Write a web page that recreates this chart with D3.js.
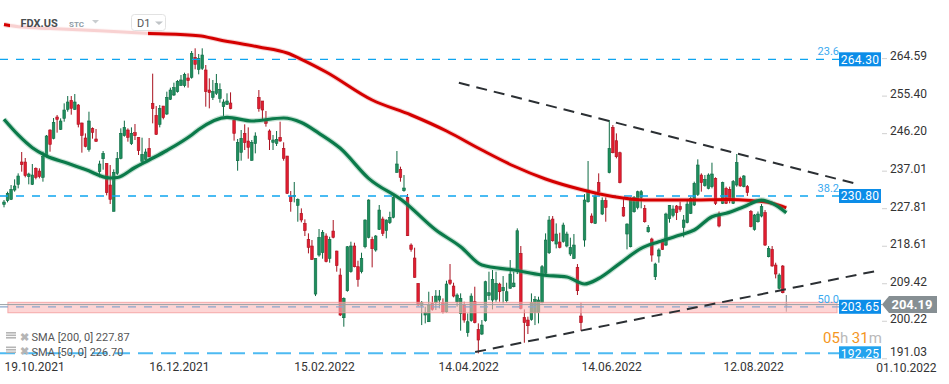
<!DOCTYPE html>
<html><head><meta charset="utf-8">
<script src="https://cdn.jsdelivr.net/npm/d3@7"></script>
<style>
html,body{margin:0;padding:0;background:#fff;}
svg{display:block;font-family:Roboto,"Noto Sans",Arial,sans-serif;}
</style></head><body>
<svg id="chart" width="949" height="384"></svg>
<script>
// ---- data ----
const openP = [228.75,229.65,229.98,232.26,233.65,239.13,239.13,235.53,233.65,237.58,236.92,235.37,240.43,246.97,244.93,250.16,247.13,249.83,252.04,254.24,252.04,253.10,248.69,245.01,242.23,247.30,244.77,236.76,239.94,238.80,233.49,227.04,236.35,240.03,245.58,246.97,243.62,246.32,245.17,239.29,239.78,242.48,253.51,250.57,248.36,252.85,250.89,254.49,255.55,256.37,257.92,257.84,259.72,259.88,264.78,261.84,262.09,261.68,256.77,254.98,255.96,254.73,252.69,253.26,253.59,249.42,239.45,241.50,246.15,244.27,239.54,243.62,254.98,254.08,249.26,246.73,243.95,243.70,245.17,242.48,240.60,230.79,230.63,228.51,226.55,224.09,220.17,218.54,206.77,216.33,216.91,220.99,215.51,222.21,217.31,211.43,200.97,207.59,212.25,218.54,213.47,212.25,218.37,220.66,220.17,217.56,222.62,225.16,222.30,224.26,225.56,236.59,237.33,232.10,230.47,218.78,215.60,209.39,203.99,201.63,199.99,204.48,204.65,205.30,204.65,202.44,210.20,208.73,204.89,202.03,204.08,197.30,200.24,204.89,198.11,196.97,200.24,206.44,205.30,205.46,209.22,207.59,205.14,208.16,208.57,212.65,216.74,201.05,200.40,200.56,202.20,202.20,204.65,211.84,216.90,225.15,219.03,219.52,219.60,218.54,216.58,215.51,213.31,201.38,220.01,229.40,225.89,224.09,234.06,226.38,229.65,236.51,247.62,244.35,241.41,228.01,221.48,218.37,226.95,228.01,230.46,227.77,222.05,220.26,211.02,216.09,219.85,218.78,225.24,226.06,228.34,228.18,223.11,224.26,226.55,228.59,231.20,235.94,233.33,232.67,233.08,235.12,226.38,229.00,232.67,232.43,229.00,233.49,235.12,233.08,233.08,227.00,222.62,224.50,225.89,226.71,215.92,217.72,213.88,208.16,213.64,204.30];
const highP = [229.81,231.86,233.49,234.88,236.35,241.58,240.11,236.51,238.64,237.82,237.58,241.66,245.75,247.13,249.91,250.65,249.83,253.51,255.30,255.30,255.79,253.34,248.77,246.15,251.46,247.62,247.22,239.45,241.82,238.80,238.39,237.33,241.58,247.38,249.26,247.38,247.62,248.44,245.17,245.09,242.40,245.01,260.78,252.85,253.10,252.85,256.37,257.35,258.57,259.23,260.45,261.02,260.86,266.33,266.99,265.60,266.99,262.90,259.63,259.23,260.70,258.41,254.49,255.96,256.20,249.59,244.77,246.97,248.36,247.62,244.52,246.40,256.77,254.08,251.63,247.13,245.75,246.73,249.01,243.95,240.60,232.02,234.23,230.22,227.77,225.08,221.64,220.01,215.52,222.71,222.46,221.64,220.82,224.91,217.39,213.06,205.96,218.54,219.60,219.35,214.94,216.90,225.07,229.98,220.82,221.23,228.59,225.73,225.07,226.95,230.79,241.82,237.98,235.94,231.28,219.19,218.13,209.39,205.06,203.67,207.34,206.28,207.75,207.75,205.71,210.04,214.13,209.55,206.94,206.94,204.89,202.03,206.94,208.57,199.58,200.40,210.04,212.25,212.65,212.25,209.55,211.18,209.55,215.10,212.25,222.87,218.54,203.01,201.22,206.93,206.28,206.12,213.88,221.64,225.89,225.89,224.09,221.80,224.26,222.05,220.58,221.48,214.12,204.65,231.28,239.37,226.54,231.28,236.35,230.46,230.46,249.42,248.19,246.15,241.66,230.22,224.09,230.46,230.79,232.10,232.26,228.59,223.69,220.58,214.45,217.97,220.17,226.71,228.59,228.51,228.59,229.41,226.14,229.81,230.63,234.31,239.78,236.35,235.94,236.35,238.96,235.37,227.00,234.31,233.08,233.08,234.72,241.09,235.53,235.94,233.49,227.36,226.38,227.00,228.83,227.36,218.54,218.54,214.45,211.84,213.88,206.53];
const lowP = [228.02,229.24,229.81,231.86,232.67,236.76,235.37,233.65,233.49,234.88,235.12,234.31,240.27,241.66,244.68,246.32,246.97,249.01,251.46,250.73,251.87,247.62,241.42,242.72,241.66,244.85,244.11,235.37,237.25,230.96,228.83,227.04,235.94,239.78,245.34,244.11,243.29,244.52,240.84,238.80,239.62,240.27,248.60,245.75,247.62,249.59,250.65,254.32,255.30,256.12,257.76,257.43,257.35,259.55,261.84,260.61,261.68,252.69,252.28,254.32,255.55,253.67,250.40,253.10,252.04,244.36,237.00,239.45,242.07,239.94,239.45,241.25,251.46,249.42,247.79,242.07,242.07,243.05,244.11,239.45,231.28,226.95,229.24,224.50,224.34,220.99,216.74,215.11,206.28,215.92,215.43,214.53,214.45,220.42,212.25,201.38,198.77,207.34,212.00,213.31,208.57,211.84,217.97,220.42,213.31,217.15,222.46,220.99,220.42,223.93,225.32,236.51,234.31,231.85,220.99,217.15,210.78,203.83,199.17,199.58,199.91,202.69,202.85,203.26,202.03,202.20,208.98,205.96,203.67,197.79,199.75,196.31,199.99,199.58,192.23,196.72,199.99,205.30,203.01,204.89,204.89,204.48,204.65,208.16,208.41,211.67,203.01,194.84,196.97,200.24,199.17,199.58,204.48,211.67,216.58,219.60,217.96,217.96,219.35,218.21,216.09,215.35,206.53,197.78,218.37,229.16,224.09,223.93,231.44,226.13,224.50,236.35,241.25,240.02,233.90,225.73,217.72,218.21,226.71,227.52,227.77,224.26,221.81,214.70,210.21,214.45,217.56,218.54,224.26,225.57,224.91,226.95,220.66,224.09,226.38,228.34,230.79,231.86,233.08,232.43,232.67,228.59,223.11,228.83,228.83,229.00,228.83,233.08,233.08,232.92,230.79,223.11,222.30,224.26,225.57,218.54,215.76,213.47,210.61,207.92,206.94,202.44];
const closeP = [229.32,231.45,232.43,233.25,235.70,238.47,235.78,236.19,235.94,235.37,235.53,240.52,245.50,243.46,248.85,249.59,249.18,251.87,253.83,252.28,253.83,248.36,245.66,242.97,249.18,246.40,244.19,238.64,241.25,231.61,229.98,236.60,240.03,246.15,247.62,245.17,246.15,245.58,241.91,241.01,241.58,240.43,252.20,245.91,252.28,249.99,254.98,256.77,257.35,258.90,259.23,260.61,259.06,265.76,263.07,264.54,265.35,256.37,256.12,256.37,258.41,256.94,253.83,254.08,252.20,246.15,243.95,244.93,243.87,242.72,243.95,245.50,252.20,251.87,248.60,244.68,244.52,244.68,244.27,240.03,231.45,229.41,230.96,229.98,224.91,222.30,218.21,215.27,215.52,220.66,221.89,214.70,220.17,220.66,213.72,201.63,205.71,218.37,218.54,213.47,210.37,215.51,224.91,229.81,217.88,220.99,227.36,221.64,224.91,225.56,230.47,238.64,235.37,232.75,221.07,217.72,210.86,204.08,204.65,202.20,204.08,203.01,206.28,206.28,202.44,209.22,209.39,206.28,206.53,205.71,200.40,199.99,206.28,199.75,195.50,199.17,209.79,207.10,210.37,209.39,207.34,208.41,207.34,211.67,209.47,222.29,203.26,199.75,199.01,204.65,205.46,205.30,213.47,220.01,224.91,219.84,221.48,218.21,223.68,221.48,218.21,218.78,207.59,199.75,229.81,232.26,224.26,230.79,231.85,229.65,228.01,242.47,241.41,240.43,234.06,225.89,223.93,230.22,230.46,231.85,231.85,224.50,223.11,216.33,214.13,217.56,217.72,226.38,228.51,227.61,226.71,227.53,224.91,228.83,230.22,233.90,238.39,234.06,234.88,235.94,236.19,229.00,223.44,234.06,229.00,230.22,234.31,238.96,233.25,235.70,231.61,223.28,226.14,226.38,228.18,218.78,217.97,213.64,211.68,211.43,207.10,204.19];

const sma200Idx = [0,5,13,27,40,55,61,72,80,84,91,104,115,125,135,144,153,163,172,181,195,204,211,217,221];
const sma200Val = [272.83,272.20,271.85,271.31,270.67,270.08,269.03,267.31,265.84,264.30,261.19,254.32,250.65,246.73,242.07,238.15,234.96,232.39,230.67,229.81,229.81,229.94,229.69,229.01,227.87];
const sma50Idx = [0,4,8,12,18,23,30,32,37,41,46,53,55,63,70,79,84,89,95,103,113,122,129,135,144,152,159,164,168,174,180,185,191,195,200,204,209,214,217,221];
const sma50Val = [249.59,245.75,242.63,240.60,238.81,237.29,235.21,235.33,237.78,239.62,241.95,245.75,247.09,250.08,249.18,249.91,248.81,246.16,242.49,235.13,229.40,222.46,218.37,213.88,212.66,211.43,210.94,209.23,210.57,214.30,217.98,219.59,221.24,222.46,225.72,226.55,228.17,229.81,229.01,226.70];

const yTickValues = [264.59,255.40,246.20,237.01,227.81,218.61,209.42,200.22,191.03];
const xTickIdx = [8.5,49.4,90.4,131.1,171.5,211.6,254.8];
const xTickLabels = ["19.10.2021","16.12.2021","15.02.2022","14.04.2022","14.06.2022","12.08.2022","01.10.2022"];
const levelValues = [264.30,230.80,203.65,192.25];
const levelLabels = ["264.30","230.80","203.65","192.25"];
const fibLabels = ["23.6","38.2","50.0",""];
const lastPrice = 204.19;
const zoneLow = 202.19, zoneHigh = 204.74;
const trendUpper = [[128.5,258.56],[241.0,233.74]];
const trendLower = [[133.1,192.56],[246.3,212.41]];
const legendRows = ["SMA [200,  0]  227.87","SMA [50,  0]  226.70"];

// ---- scales ----
const svg = d3.select("#chart");
const x = d3.scaleLinear().domain([0, 221]).range([4, 786.3]);
const y = d3.scaleLinear().domain([192.25, 264.30]).range([353.3, 59.3]);
const plotRight = 839;

svg.append("rect").attr("width",949).attr("height",384).attr("fill","#fff");
const defs = svg.append("defs");
defs.append("clipPath").attr("id","plotclip").append("rect").attr("x",0).attr("y",0).attr("width",949).attr("height",358.5);

// ---- candles ----
const candles = d3.range(openP.length).map(i => ({i, o:openP[i], h:highP[i], l:lowP[i], c:closeP[i]}));
const last = candles.length - 1;
const colUp = {fill:"#1e8e5d", stroke:"#0d6a43"};
const colDn = {fill:"#e11d30", stroke:"#a9111f"};
const colNow = {fill:"#8d9699", stroke:"#6f7a7d"};
const col = d => d.i === last ? colNow : (d.c >= d.o ? colUp : colDn);

const cg = svg.append("g").attr("clip-path","url(#plotclip)");
cg.selectAll("line.wick").data(candles).join("line")
  .attr("x1", d => x(d.i)).attr("x2", d => x(d.i))
  .attr("y1", d => y(d.h)).attr("y2", d => y(d.l))
  .attr("stroke", d => col(d).stroke).attr("stroke-width", 1);
cg.selectAll("rect.body").data(candles).join("rect")
  .attr("x", d => x(d.i) - 1.3).attr("width", 2.6)
  .attr("y", d => y(Math.max(d.o, d.c)))
  .attr("height", d => Math.max(1, y(Math.min(d.o, d.c)) - y(Math.max(d.o, d.c))))
  .attr("fill", d => col(d).fill).attr("stroke", d => col(d).stroke).attr("stroke-width", 0.6);

// ---- horizontal levels ----
const lvlStyle = [
  {stroke:"#0ea5f0", w:1.3, dash:"8,8"},
  {stroke:"#0ea5f0", w:1.3, dash:"8,8"},
  {stroke:"#8aa6cc", w:1.2, dash:"8,8"},
  {stroke:"#4dbaf2", w:2, dash:"15,8"}
];
// zone band
svg.append("rect").attr("x", x(1.1)).attr("width", plotRight - 2 - x(1.1))
  .attr("y", y(zoneHigh)).attr("height", y(zoneLow) - y(zoneHigh))
  .attr("fill", "#fbb9b9").attr("fill-opacity", 0.6)
  .attr("stroke", "#f19a9a").attr("stroke-opacity", 0.8).attr("stroke-width", 1);
// last price line
svg.append("line").attr("x1",0).attr("x2",882).attr("y1",y(lastPrice)).attr("y2",y(lastPrice))
  .attr("stroke","#9aa1a5").attr("stroke-width",1);

const lg = svg.append("g").attr("clip-path","url(#plotclip)");
levelValues.forEach((v,k) => {
  lg.append("line").attr("x1",0).attr("x2",plotRight).attr("y1",y(v)).attr("y2",y(v))
    .attr("stroke",lvlStyle[k].stroke).attr("stroke-width",lvlStyle[k].w).attr("stroke-dasharray",lvlStyle[k].dash);
});

// ---- SMA lines ----
const lineGen = d3.line().x(d => x(d[0])).y(d => y(d[1])).curve(d3.curveMonotoneX);
const s200 = sma200Idx.map((d,k) => [d, sma200Val[k]]);
const s50 = sma50Idx.map((d,k) => [d, sma50Val[k]]);
svg.append("path").attr("d", lineGen(s200)).attr("fill","none").attr("stroke","#e06060").attr("stroke-opacity",0.3).attr("stroke-width",5);
svg.append("path").attr("d", lineGen(s200)).attr("fill","none").attr("stroke","#d50000").attr("stroke-width",3);
svg.append("path").attr("d", lineGen(s50)).attr("fill","none").attr("stroke","#3a9a6e").attr("stroke-opacity",0.3).attr("stroke-width",5.5);
svg.append("path").attr("d", lineGen(s50)).attr("fill","none").attr("stroke","#0b7a4a").attr("stroke-width",3.2);

// ---- trend lines ----
[trendUpper, trendLower].forEach(t => {
  svg.append("line").attr("x1",x(t[0][0])).attr("y1",y(t[0][1])).attr("x2",x(t[1][0])).attr("y2",y(t[1][1]))
    .attr("stroke","#2b2f33").attr("stroke-width",2).attr("stroke-dasharray","11,7");
});

// header overlay (fades the top-left)
svg.append("rect").attr("x",10).attr("y",0).attr("width",138).attr("height",40).attr("fill","#fff").attr("fill-opacity",0.82);

// ---- fib labels and price boxes ----
levelValues.forEach((v,k) => {
  if (fibLabels[k]) {
    svg.append("text").attr("x",839).attr("y",y(v)-4).attr("text-anchor","end")
      .attr("font-size",11).attr("fill","#3aa9ef").text(fibLabels[k]);
  }
});
const boxG = svg.append("g").attr("clip-path","url(#plotclip)");
levelValues.forEach((v,k) => {
  boxG.append("rect").attr("x",839).attr("y",y(v)-7).attr("width",42).attr("height",14)
    .attr("fill", k===3 ? "#22a3ee" : "#0c8de8");
  boxG.append("text").attr("x",860).attr("y",y(v)+4.3).attr("text-anchor","middle")
    .attr("font-size",12).attr("fill","#fff").attr("letter-spacing",0.3).text(levelLabels[k]);
});

// current price tag
const yl = y(lastPrice);
svg.append("path").attr("d",`M882,${yl} L889,${yl-8.5} L937,${yl-8.5} L937,${yl+8.5} L889,${yl+8.5} Z`).attr("fill","#868f93");
svg.append("text").attr("x",912).attr("y",yl+4.8).attr("text-anchor","middle").attr("font-size",13)
  .attr("font-weight","bold").attr("fill","#fff").text(d3.format(".2f")(lastPrice));

// countdown
const cd = svg.append("text").attr("x",823).attr("y",343).attr("font-size",15);
cd.append("tspan").attr("fill","#f5961e").text("05");
cd.append("tspan").attr("fill","#b9b9b9").text("h ");
cd.append("tspan").attr("fill","#f5961e").text("31");
cd.append("tspan").attr("fill","#b9b9b9").text("m");

// ---- axes ----
const yAxis = svg.append("g").attr("transform","translate(882,0)")
  .call(d3.axisRight(y).tickValues(yTickValues).tickFormat(d3.format(".2f")).tickSize(5));
yAxis.select(".domain").remove();
yAxis.selectAll("line").attr("stroke","#d0d0d0");
yAxis.selectAll("text").attr("fill","#333").attr("font-size",12).attr("font-family","Roboto,sans-serif")
  .attr("dy", (d,i) => i === yTickValues.length - 1 ? "-0.2em" : "0.15em");

const xAxis = svg.append("g").attr("transform","translate(0,359)")
  .call(d3.axisBottom(x).tickValues(xTickIdx).tickFormat((d,i) => xTickLabels[i]).tickSize(0));
xAxis.select(".domain").remove();
xAxis.selectAll("text").attr("fill","#333").attr("font-size",12).attr("font-family","Roboto,sans-serif")
  .attr("dy", (d,i) => i === xTickLabels.length - 1 ? "0.85em" : "0.71em");

// ---- header ----
svg.append("text").attr("x",20.5).attr("y",26.5).attr("font-size",11).attr("font-weight","bold").attr("fill","#4a4d50").text("FDX.US");
svg.append("text").attr("x",69).attr("y",26.5).attr("font-size",8).attr("font-weight","bold").attr("fill","#8e9ca6").text("STC");
svg.append("path").attr("d","M92,20 L99,20 L95.5,23.5 Z").attr("fill","#c9cdd0");
svg.append("rect").attr("x",131.5).attr("y",14.5).attr("width",34).attr("height",16).attr("rx",3)
  .attr("fill","#fff").attr("stroke","#e2e2e2");
svg.append("text").attr("x",137).attr("y",26.5).attr("font-size",11).attr("fill","#555").text("D1");
svg.append("path").attr("d","M155,21.5 L163,21.5 L159,25 Z").attr("fill","#c0c4c7");

// ---- SMA legend ----
legendRows.forEach((t,k) => {
  const yy = 341 + k*14.5;
  const g = svg.append("g");
  [0,2.5,5].forEach(o => g.append("rect").attr("x",6).attr("y",yy-9+o).attr("width",10).attr("height",1.6).attr("fill","#b5b5b5"));
  g.append("text").attr("x",19.5).attr("y",yy-0.5).attr("font-size",11).attr("font-weight","bold").attr("fill","#b5b5b5").text("✖");
  g.append("text").attr("x",31.5).attr("y",yy).attr("font-size",11).attr("fill","#555").text(t);
});
</script>
</body></html>
